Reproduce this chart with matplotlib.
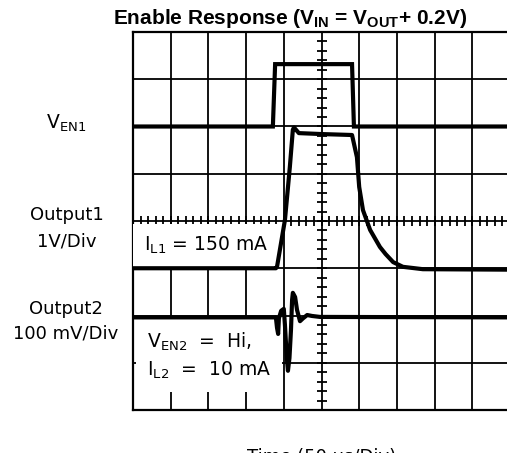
import numpy as np
import matplotlib
matplotlib.use("Agg")
import matplotlib.pyplot as plt

plt.rcParams['font.family'] = ['DejaVu Sans']
plt.rcParams['mathtext.default'] = 'regular'

# Kanal 1: lubamissignaal V_EN1 (jaotused)
ven1_t = [0.0, 3.71, 3.77, 5.81, 5.86, 10.0]
ven1_v = [6.0, 6.0, 7.32, 7.32, 6.0, 6.0]

# Väljund 1 (1V/Div)
out1_t = [0.0, 3.79, 3.82, 4.03, 4.16, 4.24, 4.27, 4.40, 5.00, 5.81,
          5.94, 6.00, 6.10, 6.29, 6.55, 6.70, 6.90, 7.16, 7.69, 10.0]
out1_v = [3.0, 3.0, 3.03, 4.02, 5.14, 5.93, 5.98, 5.86, 5.84, 5.82,
          5.35, 4.72, 4.23, 3.81, 3.45, 3.30, 3.13, 3.03, 2.98, 2.97]

# Väljund 2 (100 mV/Div)
out2_t = [0.0, 3.79, 3.82, 3.85, 3.87, 3.93, 4.00, 4.03, 4.08, 4.11, 4.15,
          4.19, 4.22, 4.24, 4.30, 4.35, 4.43, 4.51, 4.62, 4.75, 4.96, 10.0]
out2_v = [1.96, 1.96, 1.74, 1.61, 1.94, 2.10, 2.14, 1.80, 1.10, 0.83, 1.10,
          1.69, 2.33, 2.48, 2.39, 2.12, 1.88, 1.94, 2.01, 1.99, 1.97, 1.96]

fig = plt.figure(figsize=(5.07, 4.53), dpi=100)
ax = fig.add_axes([133 / 507, 43 / 453, 377 / 507, 378 / 453])
ax.set_xlim(0, 10)
ax.set_ylim(0, 8)

# Ruudustik
ax.set_xticks(range(11))
ax.set_yticks(range(9))
ax.grid(True, color='black', linewidth=1.3)
ax.tick_params(length=0, labelbottom=False, labelleft=False)
for s in ax.spines.values():
    s.set_linewidth(1.6)

# Keskjoonte peened jaotised
minor_x = np.arange(0, 10.01, 0.2)
minor_y = np.arange(0, 8.01, 0.2)
ax.plot(minor_x, np.full_like(minor_x, 4.0), ls='none', marker='|',
        ms=7, mew=1.3, color='black', zorder=2)
ax.plot(np.full_like(minor_y, 5.0), minor_y, ls='none', marker='_',
        ms=7, mew=1.3, color='black', zorder=2)

# Sildid graafiku sees (valge taustaga)
ax.text(0.3, 3.48, "I$_{L1}$ = 150 mA", fontsize=13.5, va='center', ha='left',
        zorder=3, bbox=dict(boxstyle='square,pad=0.6', fc='white', ec='none'))
ax.text(0.37, 1.15, "V$_{EN2}$  =  Hi,\nI$_{L2}$  =  10 mA", fontsize=13.5,
        va='center', ha='left', linespacing=1.4, zorder=3,
        bbox=dict(boxstyle='square,pad=0.6', fc='white', ec='none'))

# Jooned
ax.plot(ven1_t, ven1_v, color='black', lw=3.0, zorder=4, solid_joinstyle='miter')
ax.plot(out1_t, out1_v, color='black', lw=3.0, zorder=4)
ax.plot(out2_t, out2_v, color='black', lw=3.0, zorder=4)

# Kanalite nimed vasakul
fig.text(66 / 507, 1 - 123 / 453, "V$_{EN1}$", fontsize=13.5, ha='center', va='center')
fig.text(67 / 507, 1 - 215 / 453, "Output1", fontsize=13, ha='center', va='center')
fig.text(67 / 507, 1 - 241 / 453, "1V/Div", fontsize=13, ha='center', va='center')
fig.text(66 / 507, 1 - 309 / 453, "Output2", fontsize=13, ha='center', va='center')
fig.text(66 / 507, 1 - 334 / 453, "100 mV/Div", fontsize=13, ha='center', va='center')

fig.text(290 / 507, 1 - 18 / 453, "Enable Response (V$_{IN}$ = V$_{OUT}$+ 0.2V)",
         fontsize=15, fontweight='bold', family='Liberation Sans',
         ha='center', va='center')
fig.text(322 / 507, 1 - 457 / 453, "Time (50 μs/Div)", fontsize=13,
         ha='center', va='center')

fig.savefig("out.png", dpi=100)
